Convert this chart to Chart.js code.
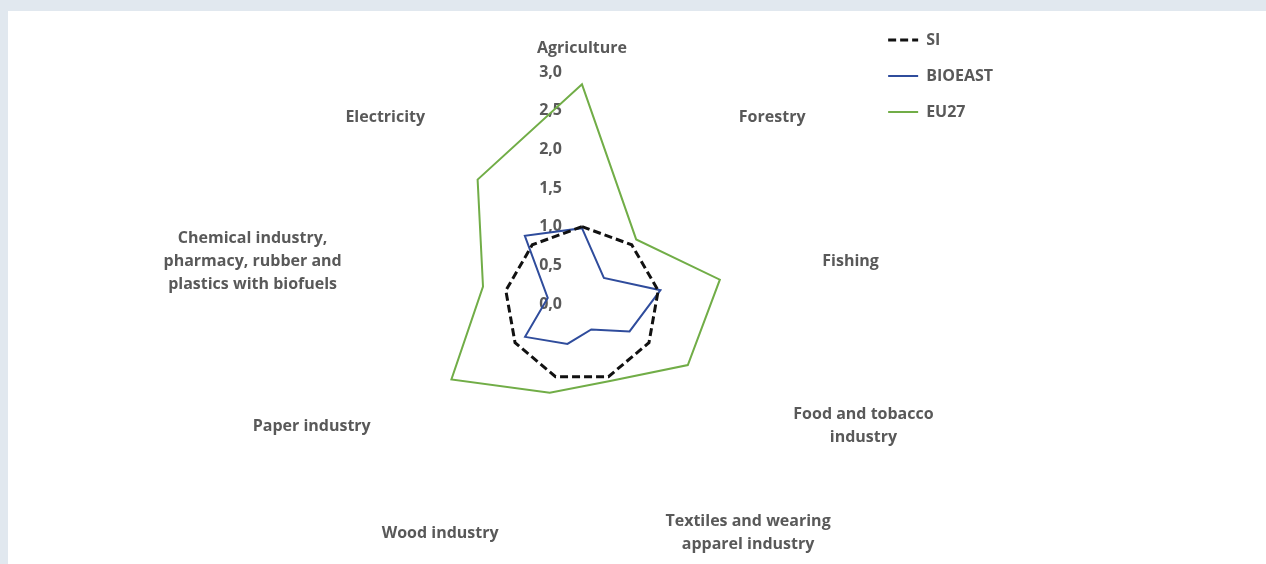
<!DOCTYPE html>
<html>
<head>
<meta charset="utf-8">
<script src="https://cdn.jsdelivr.net/npm/chart.js@4.4.1/dist/chart.umd.min.js"></script>
<style>
  html, body { margin: 0; padding: 0; background: #e1e8ef; width: 1266px; height: 564px; overflow: hidden; }
  #panel { position: absolute; left: 8px; top: 11px; right: 0; bottom: 0; background: #fff; }
  #chart { position: absolute; left: 0; top: 0; }
</style>
</head>
<body>
<div id="panel"></div>
<canvas id="chart" width="1266" height="564"></canvas>
<script>
// sectors, clockwise from the top
const sectors = [
  'Agriculture',
  'Forestry',
  'Fishing',
  ['Food and tobacco', 'industry'],
  ['Textiles and wearing', 'apparel industry'],
  'Wood industry',
  'Paper industry',
  ['Chemical industry,', 'pharmacy, rubber and', 'plastics with biofuels'],
  'Electricity'
];

const siValues      = [1.0, 1.0, 1.0, 1.0, 1.0, 1.0, 1.0, 1.0, 1.0];
const bioeastValues = [0.98, 0.44, 1.03, 0.71, 0.35, 0.55, 0.85, 0.45, 1.15];
const eu27Values    = [2.84, 1.09, 1.81, 1.58, 1.06, 1.22, 1.95, 1.30, 2.10];

const TEXT = '#595959';
const FONT = 'bold 16px "Open Sans"';
const LINE_H = 23;

Chart.defaults.font.family = '"Open Sans", sans-serif';
Chart.defaults.color = TEXT;

// tick values and sector names drawn the way the spreadsheet places them
const radarText = {
  id: 'radarText',
  beforeDatasetsDraw(chart) {
    const r = chart.scales.r, ctx = chart.ctx;
    ctx.save();
    ctx.font = FONT;
    ctx.fillStyle = TEXT;
    ctx.textAlign = 'right';
    ctx.textBaseline = 'middle';
    r.ticks.forEach(t => {
      ctx.fillText(t.label, r.xCenter - 20, r.yCenter - r.getDistanceFromCenterForValue(t.value));
    });
    ctx.restore();
  },
  afterDraw(chart) {
    const r = chart.scales.r, ctx = chart.ctx;
    ctx.save();
    ctx.font = FONT;
    ctx.fillStyle = TEXT;
    ctx.textAlign = 'center';
    ctx.textBaseline = 'middle';
    chart.data.labels.forEach((lab, i) => {
      const lines = [].concat(lab);
      const p = r.getPointPosition(i, r.drawingArea + 12);
      const deg = Math.round((p.angle * 180 / Math.PI + 90 + 360) % 360);
      const w = Math.max(...lines.map(s => ctx.measureText(s).width));
      const h = lines.length * LINE_H;
      const left = (deg === 0 || deg === 180) ? p.x - w / 2 : deg < 180 ? p.x : p.x - w;
      const top = deg === 0 ? p.y - h : deg === 180 ? p.y : p.y - h / 2;
      lines.forEach((s, k) => ctx.fillText(s, left + w / 2, top + LINE_H * (k + 0.5)));
    });
    ctx.restore();
  }
};

new Chart(document.getElementById('chart').getContext('2d'), {
  type: 'radar',
  data: {
    labels: sectors,
    datasets: [
      { label: 'SI', data: siValues, borderColor: '#111111', borderWidth: 3, borderDash: [8, 4], fill: false, pointRadius: 0 },
      { label: 'BIOEAST', data: bioeastValues, borderColor: '#2f4c9c', borderWidth: 2, fill: false, pointRadius: 0 },
      { label: 'EU27', data: eu27Values, borderColor: '#71ad47', borderWidth: 2, fill: false, pointRadius: 0 }
    ]
  },
  plugins: [radarText],
  options: {
    responsive: false,
    animation: false,
    layout: { padding: { left: 296, right: 263, top: 12, bottom: 28 } },
    elements: { line: { tension: 0, borderJoinStyle: 'miter' } },
    plugins: {
      title: { display: true, text: '', font: { size: 12, lineHeight: 1 }, padding: { top: 0, bottom: 48 } },
      legend: {
        position: 'right',
        align: 'start',
        labels: {
          usePointStyle: true,
          pointStyle: 'line',
          pointStyleWidth: 30,
          padding: 20,
          color: TEXT,
          font: { size: 16, weight: 'bold' },
          generateLabels: chart => Chart.defaults.plugins.legend.labels.generateLabels(chart).map(item => {
            const ds = chart.data.datasets[item.datasetIndex];
            return { ...item, strokeStyle: ds.borderColor, lineWidth: ds.borderWidth, lineDash: ds.borderDash || [] };
          })
        }
      },
      tooltip: { enabled: false }
    },
    scales: {
      r: {
        min: 0,
        max: 3,
        ticks: { display: false, stepSize: 0.5, callback: v => v.toFixed(1).replace('.', ',') },
        grid: { display: false },
        angleLines: { display: false },
        pointLabels: { display: false }
      }
    }
  }
});
</script>
</body>
</html>
